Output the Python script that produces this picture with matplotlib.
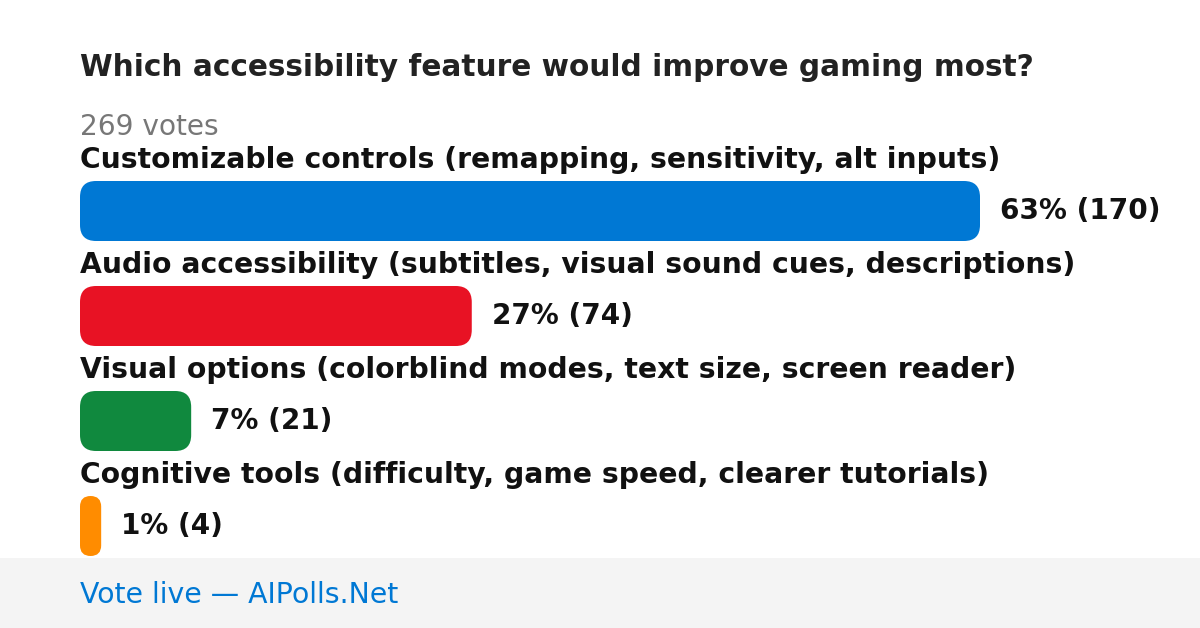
import matplotlib.pyplot as plt
from matplotlib.patches import FancyBboxPatch, Rectangle

title = "Which accessibility feature would improve gaming most?"
total_label = "269 votes"
categories = [
    "Customizable controls (remapping, sensitivity, alt inputs)",
    "Audio accessibility (subtitles, visual sound cues, descriptions)",
    "Visual options (colorblind modes, text size, screen reader)",
    "Cognitive tools (difficulty, game speed, clearer tutorials)",
]
votes = [170, 74, 21, 4]
percents = [63, 27, 7, 1]
colors = ["#0078d4", "#e81224", "#10893e", "#ff8c00"]
footer = "Vote live \u2014 AIPolls.Net"

plt.rcParams["font.family"] = ["DejaVu Sans"]


def main():
    fig = plt.figure(figsize=(12, 6.28), dpi=100)
    ax = fig.add_axes([0, 0, 1, 1])
    ax.set_xlim(0, 1200)
    ax.set_ylim(628, 0)
    ax.axis("off")

    ax.text(80, 68, title, fontsize=21.35, fontweight="bold", color="#222222",
            va="center", ha="left")
    ax.text(80, 127, total_label, fontsize=20.2, color="#777777",
            va="center", ha="left")

    # bars scaled so the biggest one spans 900 px
    max_w = 900
    top = max(votes)
    for i, (cat, v, p, c) in enumerate(zip(categories, votes, percents, colors)):
        y0 = 181 + i * 105
        h = 60
        w = v / top * max_w
        ax.text(80, y0 - 21, cat, fontsize=20.3, fontweight="bold",
                color="#111111", va="center", ha="left")
        r = min(16, w / 2)
        ax.add_patch(FancyBboxPatch((80, y0), w, h,
                                    boxstyle=f"round,pad=0,rounding_size={r}",
                                    facecolor=c, edgecolor="none"))
        ax.text(80 + w + 20, y0 + h / 2, f"{p}% ({v})", fontsize=20.1,
                fontweight="bold", color="#111111", va="center", ha="left")

    ax.add_patch(Rectangle((0, 558), 1200, 70, facecolor="#f4f4f4",
                           edgecolor="none"))
    ax.text(80, 595, footer, fontsize=20.4, color="#0078d4",
            va="center", ha="left")

    fig.savefig("out.png", dpi=100)


if __name__ == "__main__":
    main()
